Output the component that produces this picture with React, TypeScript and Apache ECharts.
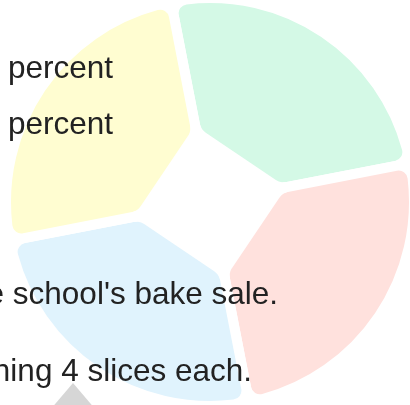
import React, { useEffect, useRef } from "react";
import * as echarts from "echarts";

const categories = ["Slice 1", "Slice 2", "Slice 3", "Slice 4"];
const values = [25, 25, 25, 25];
const colors = ["#d4f9e6", "#ffe1dd", "#e0f3fd", "#fffdd1"];
const textLines = [
  { text: "percent", align: "left", x: 8, baseline: 78 },
  { text: "percent", align: "left", x: 8, baseline: 134 },
  { text: "e school's bake sale.", align: "right", x: 278, baseline: 304 },
  { text: "ning 4 slices each.", align: "right", x: 252, baseline: 381 },
];

const CX = 210;
const CY = 202;
const START = 101;
const HOLE_R = 78;
const HALF_GAP = 5;
const CORNER_R = 14;

type P = [number, number];
const add = (a: P, b: P): P => [a[0] + b[0], a[1] + b[1]];
const mul = (a: P, s: number): P => [a[0] * s, a[1] * s];
const sub = (a: P, b: P): P => [a[0] - b[0], a[1] - b[1]];
const dot = (a: P, b: P) => a[0] * b[0] + a[1] * b[1];
const norm = (a: P): P => {
  const l = Math.hypot(a[0], a[1]);
  return [a[0] / l, a[1] / l];
};
// intersection of line p + s*d with line q + t*e
const intersect = (p: P, d: P, q: P, e: P): P => {
  const den = d[0] * e[1] - d[1] * e[0];
  const s = ((q[0] - p[0]) * e[1] - (q[1] - p[1]) * e[0]) / den;
  return add(p, mul(d, s));
};

function roundedCorner(K: P, d1: P, d2: P, r: number): P[] {
  const alpha = Math.acos(Math.max(-1, Math.min(1, dot(d1, d2))));
  const t = r / Math.tan(alpha / 2);
  const T1 = add(K, mul(d1, t));
  const T2 = add(K, mul(d2, t));
  const bis = norm(add(d1, d2));
  const O = add(K, mul(bis, r / Math.sin(alpha / 2)));
  const a1 = Math.atan2(T1[1] - O[1], T1[0] - O[0]);
  let a2 = Math.atan2(T2[1] - O[1], T2[0] - O[0]);
  let da = a2 - a1;
  while (da > Math.PI) da -= 2 * Math.PI;
  while (da < -Math.PI) da += 2 * Math.PI;
  const pts: P[] = [];
  const n = 10;
  for (let i = 0; i <= n; i++) {
    const a = a1 + (da * i) / n;
    pts.push([O[0] + r * Math.cos(a), O[1] + r * Math.sin(a)]);
  }
  return pts;
}

function holePolygon(): P[] {
  const total = values.reduce((a, b) => a + b, 0);
  const C: P = [CX, CY];
  const angs: number[] = [];
  let cum = 0;
  values.forEach((v) => {
    angs.push(((START - (360 * cum) / total) * Math.PI) / 180);
    cum += v;
  });
  const n = angs.length;
  const U = angs.map((a) => [Math.cos(a), -Math.sin(a)] as P);
  const V = U.map((u) => add(C, mul(u, HOLE_R)));
  const pts: P[] = [];
  for (let i = 0; i < n; i++) {
    const j = (i + 1) % n;
    const aS = angs[i];
    const aE = angs[j];
    const nS: P = [Math.sin(aS), Math.cos(aS)];
    const nE: P = [-Math.sin(aE), -Math.cos(aE)];
    const chordDir = norm(sub(V[j], V[i]));
    const Ks = intersect(add(C, mul(nS, HALF_GAP)), U[i], V[i], chordDir);
    const Ke = intersect(add(C, mul(nE, HALF_GAP)), U[j], V[i], chordDir);
    pts.push(...roundedCorner(Ks, U[i], chordDir, CORNER_R));
    const back = roundedCorner(Ke, U[j], mul(chordDir, -1), CORNER_R);
    pts.push(...back.reverse());
  }
  return pts;
}

export default function App() {
  const ref = useRef<HTMLDivElement>(null);
  useEffect(() => {
    document.body.style.margin = "0";
    const chart = echarts.init(ref.current!, null, { renderer: "svg" });
    const fs = 31.5;
    chart.setOption({
      animation: false,
      series: [
        {
          type: "pie",
          center: [CX, CY],
          radius: [0, 204],
          startAngle: START,
          clockwise: true,
          silent: true,
          label: { show: false },
          labelLine: { show: false },
          emphasis: { disabled: true },
          itemStyle: { borderColor: "#ffffff", borderWidth: 10, borderRadius: 14 },
          data: categories.map((c, i) => ({
            name: c,
            value: values[i],
            itemStyle: { color: colors[i] },
          })),
        },
      ],
      graphic: [
        {
          type: "polygon",
          z: 50,
          shape: { points: holePolygon() },
          style: { fill: "#ffffff" },
        },
        {
          type: "polygon",
          z: 100,
          shape: { points: [[73, 383], [50, 410], [96, 410]] },
          style: { fill: "#d6d6d6" },
        },
        ...textLines.map((t) => ({
          type: "text",
          z: 100,
          x: t.x,
          y: t.baseline - fs * 0.3465,
          style: {
            text: t.text,
            fill: "#222222",
            font: `${fs}px "Liberation Sans", Arial, sans-serif`,
            align: t.align,
            verticalAlign: "middle",
          },
        })),
      ],
    });
    return () => chart.dispose();
  }, []);
  return (
    <div
      ref={ref}
      style={{ position: "fixed", left: 0, top: 0, width: 410, height: 405 }}
    />
  );
}
